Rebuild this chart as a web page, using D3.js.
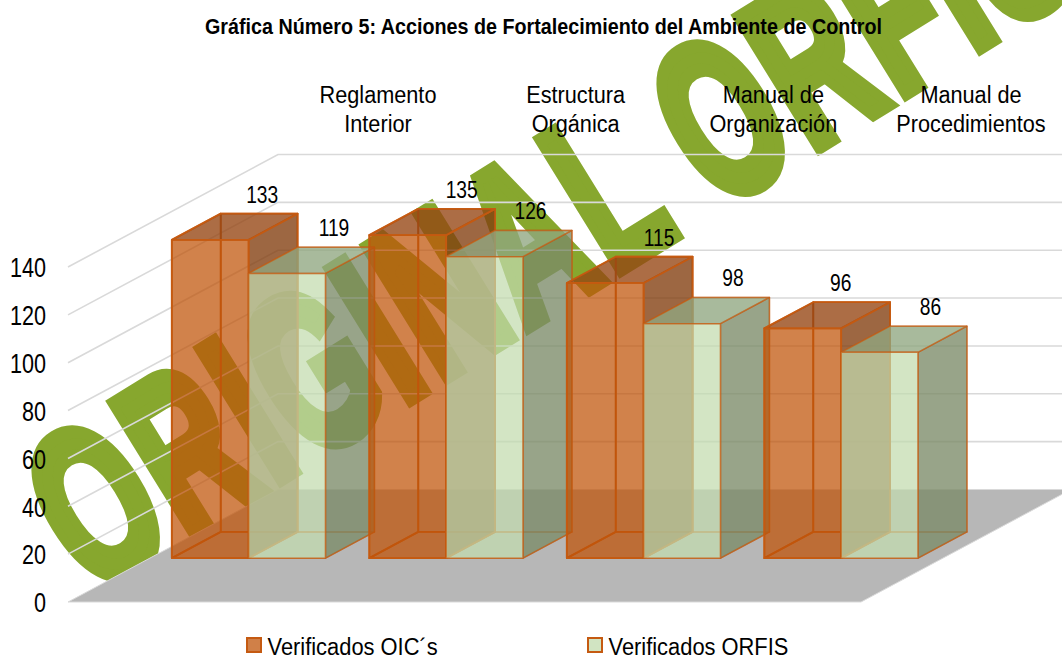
<!DOCTYPE html>
<html><head><meta charset="utf-8">
<script src="https://cdn.jsdelivr.net/npm/d3@7/dist/d3.min.js"></script>
<style>html,body{margin:0;padding:0;background:#fff}svg{display:block}text{font-family:"Liberation Sans",Arial,sans-serif;fill:#000}</style>
</head><body><div id="c"></div>
<script>
const categories = [["Reglamento","Interior"],["Estructura","Orgánica"],["Manual de","Organización"],["Manual de","Procedimientos"]];
const seriesNames = ["Verificados OIC´s","Verificados ORFIS"];
const oic = [133,135,115,96];
const orfis = [119,126,98,86];
const yTicks = [0,20,40,60,80,100,120,140];
const title = "Gráfica Número 5: Acciones de Fortalecimiento del Ambiente de Control";
const watermark = "ORIGINAL ORFIS";
const labelNudgeX = [[3,5,5,-11],[-2,-3,2,2]];

const W=1062,H=656;
const svg=d3.select("#c").append("svg").attr("width",W).attr("height",H);
const DX=210,DY=-112.5,D0=0.39,D1=0.623;
const y=d3.scaleLinear().domain([0,140]).range([602,267]);
const x0=d3.scaleBand().domain(d3.range(4)).range([68,858]).paddingInner(0.222).paddingOuter(0.111);
const x1=d3.scaleBand().domain([0,1]).range([0,x0.bandwidth()]);
const P=(x,v,d)=>[x+d*DX,y(v)+d*DY];
const path=pts=>"M"+pts.map(p=>p.join(",")).join("L")+"Z";

// watermark sits behind the transparent chart
svg.append("text").text(watermark).attr("transform","translate(92,596) rotate(-31.7) scale(1,1.66)")
  .attr("font-size",133).attr("font-weight","bold").attr("letter-spacing",6).attr("word-spacing",-4)
  .style("fill","#87a72e").attr("stroke","#87a72e").attr("stroke-width",12).attr("stroke-linejoin","miter").attr("vector-effect","non-scaling-stroke");

// floor
svg.append("path").attr("d",path([P(68,0,0),P(68,0,1),P(861,0,1),P(861,0,0)])).attr("fill","#b7b7b7").attr("stroke","#d9d9d9").attr("stroke-width",1);

// gridlines
svg.append("g").selectAll("path").data(yTicks.slice(1)).join("path")
  .attr("d",v=>"M"+P(68,v,0)+"L"+P(68,v,1)+"L"+[W,y(v)+DY])
  .attr("fill","none").attr("stroke","#d9d9d9").attr("stroke-width",1.6);

// axis
const ax=svg.append("g").attr("transform","translate(46,0)").call(d3.axisLeft(y).tickValues(yTicks).tickSize(0).tickPadding(0));
ax.select(".domain").remove();
ax.selectAll("text").attr("x",0).attr("dy","0.36em").attr("transform","scale(0.8,1)").style("font-size","27px").style("font-family",'"Liberation Sans"');

const styles=[
 {front:"#bf5308",right:"#823d10",top:"#954513",stroke:"#c55a11",sw:1.8,so:0.9},
 {front:"#c2dbae",right:"#7b8b68",top:"#8fa680",stroke:"#c55a11",sw:1.5,so:0.65}
];
const bars=[];
oic.forEach((v,i)=>{bars.push({i,s:0,v});bars.push({i,s:1,v:orfis[i]});});
const gb=svg.append("g").selectAll("g").data(bars).join("g");
gb.each(function(b){
  const g=d3.select(this),st=styles[b.s];
  const a=x0(b.i)+x1(b.s),c=a+x1.bandwidth(),v=b.v;
  const face=(pts,fill,op)=>g.append("path").attr("d",path(pts)).attr("fill",fill).attr("fill-opacity",op)
      .attr("stroke",st.stroke).attr("stroke-opacity",st.so).attr("stroke-width",st.sw).attr("stroke-linejoin","round");
  face([P(a,0,D1),P(c,0,D1),P(c,v,D1),P(a,v,D1)],st.front,0.03);
  face([P(a,0,D0),P(a,0,D1),P(a,v,D1),P(a,v,D0)],st.front,0.03);
  face([P(a,0,D0),P(c,0,D0),P(c,0,D1),P(a,0,D1)],st.front,0.06);
  face([P(c,0,D0),P(c,0,D1),P(c,v,D1),P(c,v,D0)],st.right,0.78);
  face([P(a,v,D0),P(c,v,D0),P(c,v,D1),P(a,v,D1)],st.top,0.78);
  face([P(a,0,D0),P(c,0,D0),P(c,v,D0),P(a,v,D0)],st.front,0.72);
});

// data labels
svg.append("g").selectAll("text").data(bars).join("text")
  .attr("transform",b=>{const c=x0(b.i)+x1(b.s)+x1.bandwidth()/2;const p=P(c,b.v,D1);return `translate(${p[0]+labelNudgeX[b.s][b.i]},${p[1]-11}) scale(0.8,1)`;})
  .attr("text-anchor","middle").attr("font-size",24).text(b=>b.v);

// category labels
const catX=d3.scalePoint().domain(d3.range(4)).range([378,971]);
const cg=svg.append("g").selectAll("g").data(categories).join("g")
  .attr("transform",(d,i)=>`translate(${catX(i)},0)`);
cg.selectAll("text").data(d=>d).join("text")
  .attr("transform",(t,j)=>`translate(0,${103+j*29}) scale(0.885,1)`)
  .attr("text-anchor","middle").attr("font-size",24.5).text(t=>t);

// title
svg.append("text").attr("transform","translate(543.5,34) scale(0.918,1)").attr("text-anchor","middle")
  .attr("font-size",21.5).attr("font-weight","bold").text(title);

// legend
const lx=[246,587], swF=["#d08048","#d1e4c2"];
seriesNames.forEach((n,i)=>{
  svg.append("rect").attr("x",lx[i]+1).attr("y",638).attr("width",14).attr("height",14).attr("fill",swF[i]).attr("stroke","#c55a11").attr("stroke-width",2);
  svg.append("text").attr("transform",`translate(${lx[i]+21.5},654.5) scale(0.893,1)`).attr("font-size",24.5).text(n);
});
</script></body></html>
